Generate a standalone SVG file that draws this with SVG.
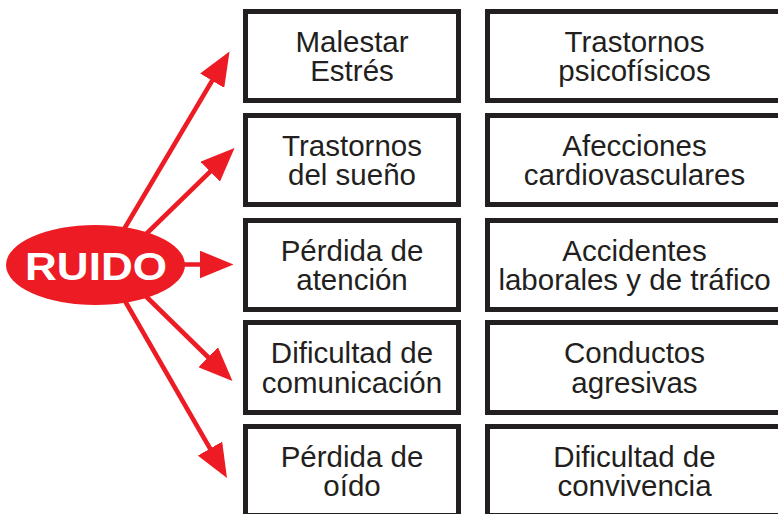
<svg xmlns="http://www.w3.org/2000/svg" width="778" height="514" viewBox="0 0 778 514">
<style>
.box{fill:#fff;stroke:#231f20;stroke-width:5}
.t{font-family:"Liberation Sans",Arial,Helvetica,sans-serif;font-size:29.5px;fill:#231f20;text-anchor:middle}
.arr{stroke:#ed1c24;stroke-width:4.6;fill:none}
</style>
<defs>
<marker id="ah" markerUnits="userSpaceOnUse" markerWidth="34" markerHeight="28" refX="14" refY="14" orient="auto" viewBox="0 0 34 28">
<path d="M0,0 L34,14 L0,28 z" fill="#ed1c24"/>
</marker>
</defs>
<rect width="778" height="514" fill="#fff"/>
<g id="connectors">
<line class="arr" x1="120" y1="236" x2="219.3" y2="68.7" marker-end="url(#ah)"/>
<line class="arr" x1="140" y1="240" x2="220.2" y2="161.9" marker-end="url(#ah)"/>
<line class="arr" x1="180" y1="264.5" x2="213.5" y2="264.5" marker-end="url(#ah)"/>
<line class="arr" x1="140" y1="290.5" x2="218.2" y2="367" marker-end="url(#ah)"/>
<line class="arr" x1="121" y1="294" x2="217" y2="460.7" marker-end="url(#ah)"/>
</g>
<g id="ruido">
<ellipse cx="95.5" cy="265" rx="89.5" ry="40" fill="#ed1c24"/>
<text x="96" y="279.5" font-family="'Liberation Sans',Arial,sans-serif" font-weight="bold" font-size="38" fill="#fff" text-anchor="middle" textLength="142" lengthAdjust="spacingAndGlyphs">RUIDO</text>
</g>
<g id="l1"><rect class="box" x="245.5" y="11.5" width="213" height="89"/><text class="t"><tspan x="352" y="51.75">Malestar</tspan><tspan x="352" y="81.25">Estrés</tspan></text></g>
<g id="l2"><rect class="box" x="245.5" y="115.5" width="213" height="89"/><text class="t"><tspan x="352" y="155.75">Trastornos</tspan><tspan x="352" y="185.25">del sueño</tspan></text></g>
<g id="l3"><rect class="box" x="245.5" y="220.5" width="213" height="89"/><text class="t"><tspan x="352" y="260.75">Pérdida de</tspan><tspan x="352" y="290.25">atención</tspan></text></g>
<g id="l4"><rect class="box" x="245.5" y="322.5" width="213" height="90"/><text class="t"><tspan x="352" y="363">Dificultad de</tspan><tspan x="352" y="392.75">comunicación</tspan></text></g>
<g id="l5"><rect class="box" x="245.5" y="426.5" width="213" height="89"/><text class="t"><tspan x="352" y="466.75">Pérdida de</tspan><tspan x="352" y="496.25">oído</tspan></text></g>
<g id="r1"><rect class="box" x="487.5" y="11.5" width="300" height="89"/><text class="t"><tspan x="634.5" y="51.75">Trastornos</tspan><tspan x="634.5" y="81.25">psicofísicos</tspan></text></g>
<g id="r2"><rect class="box" x="487.5" y="115.5" width="300" height="89"/><text class="t"><tspan x="634.5" y="155.75">Afecciones</tspan><tspan x="634.5" y="185.25">cardiovasculares</tspan></text></g>
<g id="r3"><rect class="box" x="487.5" y="220.5" width="300" height="89"/><text class="t"><tspan x="634.5" y="260.75">Accidentes</tspan><tspan x="634.5" y="290.25">laborales y de tráfico</tspan></text></g>
<g id="r4"><rect class="box" x="487.5" y="322.5" width="300" height="90"/><text class="t"><tspan x="634.5" y="363">Conductos</tspan><tspan x="634.5" y="392.75">agresivas</tspan></text></g>
<g id="r5"><rect class="box" x="487.5" y="426.5" width="300" height="89"/><text class="t"><tspan x="634.5" y="466.75">Dificultad de</tspan><tspan x="634.5" y="496.25">convivencia</tspan></text></g>
</svg>
